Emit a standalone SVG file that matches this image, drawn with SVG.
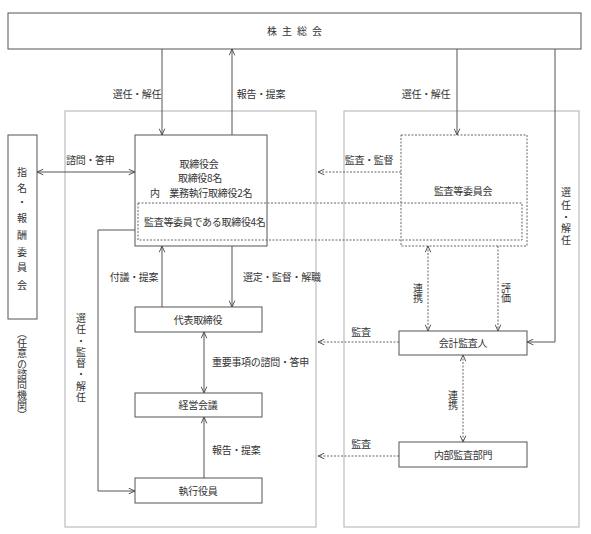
<svg xmlns="http://www.w3.org/2000/svg" width="591" height="534" viewBox="0 0 591 534">
<style>
text{font-family:"Noto Sans CJK JP","Noto Sans CJK SC",sans-serif;font-size:10px;fill:#333;letter-spacing:-0.3px}
.c{text-anchor:middle}
.v{writing-mode:vertical-rl;letter-spacing:0}
.box{fill:#fff;stroke:#555;stroke-width:1}
.dbox{fill:none;stroke:#666;stroke-width:1;stroke-dasharray:2,1.5}
.panel{fill:none;stroke:#bdbdbd;stroke-width:1.2}
.ln{fill:none;stroke:#555;stroke-width:1}
.dl{fill:none;stroke:#666;stroke-width:1;stroke-dasharray:2,1.5}
</style>
<defs>
<marker id="a" viewBox="0 0 10 10" refX="10" refY="5" markerWidth="7" markerHeight="7" markerUnits="userSpaceOnUse" orient="auto-start-reverse"><path d="M1,1 L10,5 L1,9" fill="none" stroke="#444" stroke-width="1.3"/></marker>
</defs>
<rect width="591" height="534" fill="#fff"/>
<g id="panels">
<rect class="panel" x="65" y="111" width="251" height="416"/>
<rect class="panel" x="344" y="111" width="235" height="416"/>
</g>
<g id="connectors">
<path class="ln" d="M162,49 V135" marker-end="url(#a)"/>
<path class="ln" d="M232,135 V49" marker-end="url(#a)"/>
<path class="ln" d="M457,49 V135" marker-end="url(#a)"/>
<path class="ln" d="M555,49 V342 H527" marker-end="url(#a)"/>
<path class="ln" d="M37,172 H135" marker-start="url(#a)" marker-end="url(#a)"/>
<path class="ln" d="M162,307 V246" marker-end="url(#a)"/>
<path class="ln" d="M232,246 V307" marker-end="url(#a)"/>
<path class="ln" d="M204,332 V393" marker-start="url(#a)" marker-end="url(#a)"/>
<path class="ln" d="M204,478 V417" marker-end="url(#a)"/>
<path class="ln" d="M135,230 H98 V491 H135" marker-end="url(#a)"/>
<path class="dl" d="M401,172 H318" marker-end="url(#a)"/>
<path class="dl" d="M428,246 V331" marker-start="url(#a)" marker-end="url(#a)"/>
<path class="dl" d="M498,246 V331" marker-end="url(#a)"/>
<path class="dl" d="M399,342 H318" marker-end="url(#a)"/>
<path class="dl" d="M463,355 V442" marker-start="url(#a)" marker-end="url(#a)"/>
<path class="dl" d="M399,456 H318" marker-end="url(#a)"/>
</g>
<g id="shareholders">
<rect class="box" x="8" y="13" width="573" height="36"/>
<text class="c" x="297" y="35" style="letter-spacing:5px">株主総会</text>
</g>
<g id="nomination">
<rect class="box" x="8" y="135" width="29" height="184"/>
<text class="v" x="22" y="167 183 197 213 230 247 262 280">指名・報酬委員会</text>
<text class="v" x="22" y="328 338.3 348.6 358.9 369.2 379.5 389.8 400.1 410.4">（任意の諮問機関）</text>
</g>
<g id="board">
<rect class="box" x="135" y="135" width="132" height="111"/>
<text class="c" x="199" y="167.5">取締役会</text>
<text class="c" x="200" y="182">取締役8名</text>
<text class="c" x="201" y="196.5">内　業務執行取締役2名</text>
</g>
<g id="auditcommittee">
<rect class="dbox" x="401" y="135" width="126" height="111"/>
<text class="c" x="463" y="195">監査等委員会</text>
</g>
<g id="auditdirectors">
<rect class="dbox" x="138" y="203" width="384" height="37"/>
<text x="144" y="226">監査等委員である取締役4名</text>
</g>
<g id="representative">
<rect class="box" x="135" y="307" width="127" height="25"/>
<text class="c" x="198" y="323.5">代表取締役</text>
</g>
<g id="management">
<rect class="box" x="135" y="393" width="127" height="24"/>
<text class="c" x="198" y="409">経営会議</text>
</g>
<g id="officers">
<rect class="box" x="135" y="478" width="127" height="25"/>
<text class="c" x="198" y="494.5">執行役員</text>
</g>
<g id="accountant">
<rect class="box" x="399" y="331" width="128" height="24"/>
<text class="c" x="463" y="347">会計監査人</text>
</g>
<g id="internalaudit">
<rect class="box" x="399" y="442" width="128" height="25"/>
<text class="c" x="463" y="458.5">内部監査部門</text>
</g>
<g id="labels">
<text class="c" x="137" y="98">選任・解任</text>
<text class="c" x="261" y="98">報告・提案</text>
<text class="c" x="426" y="98">選任・解任</text>
<text x="66" y="164">諮問・答申</text>
<text class="c" x="369" y="164">監査・監督</text>
<text class="v" x="566" y="187 200 212 223 235">選任・解任</text>
<text class="c" x="134" y="281">付議・提案</text>
<text x="243" y="281">選定・監督・解職</text>
<text x="212" y="366">重要事項の諮問・答申</text>
<text x="212" y="454">報告・提案</text>
<text class="v" x="81" y="313 324.5 335.8 347 358 369.5 381 392">選任・監督・解任</text>
<text class="v" x="418" y="283 293">連携</text>
<text class="v" x="506" y="283 293">評価</text>
<text class="v" x="453" y="390 400">連携</text>
<text class="c" x="361" y="336">監査</text>
<text class="c" x="361" y="448">監査</text>
</g>
</svg>
